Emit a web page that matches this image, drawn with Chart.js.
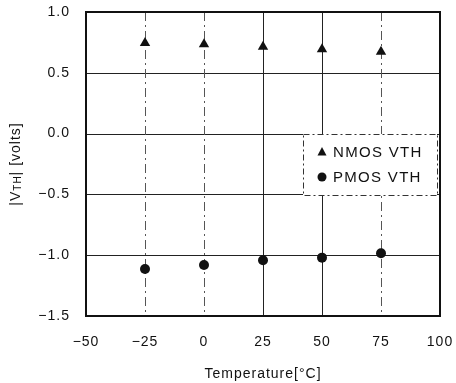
<!DOCTYPE html>
<html>
<head>
<meta charset="utf-8">
<script src="https://cdn.jsdelivr.net/npm/chart.js@4.4.1/dist/chart.umd.min.js"></script>
<style>
html,body{margin:0;padding:0;background:#fff;}
#wrap{width:456px;height:383px;}
</style>
</head>
<body>
<div id="wrap"><canvas id="c" width="456" height="383"></canvas></div>
<script>
const temperatures = [-25, 0, 25, 50, 75];
const nmosVth = [0.745, 0.734, 0.715, 0.693, 0.674];
const pmosVth = [-1.113, -1.080, -1.042, -1.020, -0.984];
const seriesNames = ['NMOS VTH', 'PMOS VTH'];
const xTitle = 'Temperature[°C]';
const yTitleParts = ['|V', 'TH', '| [volts]'];

const FONT = '"Liberation Sans", Arial, Helvetica, sans-serif';
const INK = '#111';

function fmt(v, dec) {
  const s = Math.abs(v).toFixed(dec);
  return (v < 0 ? '\u2212' : '') + s;
}

const spacingPlugin = {
  id: 'spacing',
  beforeLayout(chart) { chart.ctx.letterSpacing = '1px'; },
  beforeDraw(chart) { chart.ctx.letterSpacing = '1px'; }
};

const decorPlugin = {
  id: 'decor',
  beforeDatasetsDraw(chart) {
    const ctx = chart.ctx, a = chart.chartArea;
    const xs = chart.scales.x, ys = chart.scales.y;
    ctx.save();
    ctx.strokeStyle = '#222';
    ctx.lineWidth = 1;
    ys.ticks.forEach(t => {
      const y = Math.round(ys.getPixelForValue(t.value)) + 0.5;
      if (y <= a.top + 1 || y >= a.bottom - 1) return;
      ctx.beginPath(); ctx.moveTo(a.left, y); ctx.lineTo(a.right, y); ctx.stroke();
    });
    xs.ticks.forEach(t => {
      const x = Math.round(xs.getPixelForValue(t.value)) + 0.5;
      if (x <= a.left + 1 || x >= a.right - 1) return;
      const solid = (t.value === 25 || t.value === 50);
      ctx.setLineDash(solid ? [] : [9, 4, 2, 4]);
      ctx.strokeStyle = solid ? '#222' : '#555';
      ctx.beginPath(); ctx.moveTo(x, a.top); ctx.lineTo(x, a.bottom); ctx.stroke();
    });
    ctx.setLineDash([]);
    ctx.strokeStyle = INK;
    ctx.lineWidth = 2;
    ctx.strokeRect(a.left, a.top, a.right - a.left, a.bottom - a.top);
    ctx.restore();
  },
  afterDatasetsDraw(chart) {
    const ctx = chart.ctx, a = chart.chartArea;
    ctx.save();
    ctx.letterSpacing = '1.3px';
    const bx = 303, by = 134, bw = 134, bh = 61;
    ctx.fillStyle = '#fff';
    ctx.fillRect(bx, by, bw, bh);
    ctx.strokeStyle = '#333';
    ctx.lineWidth = 1;
    ctx.setLineDash([6, 3, 2, 3]);
    ctx.strokeRect(bx + 0.5, by + 0.5, bw, bh);
    ctx.setLineDash([]);
    ctx.font = '15px ' + FONT;
    ctx.fillStyle = INK;
    ctx.textBaseline = 'middle';
    chart.data.datasets.forEach((ds, i) => {
      const cy = by + 18 + i * 25;
      const cx = bx + 19;
      ctx.beginPath();
      if (ds.pointStyle === 'triangle') {
        ctx.moveTo(cx, cy - 5); ctx.lineTo(cx + 4.5, cy + 3.5); ctx.lineTo(cx - 4.5, cy + 3.5); ctx.closePath();
      } else {
        ctx.arc(cx, cy, 4.5, 0, Math.PI * 2);
      }
      ctx.fill();
      ctx.fillText(ds.label, bx + 30, cy + 1);
    });
    ctx.letterSpacing = '1px';
    ctx.translate(15, 164);
    ctx.rotate(-Math.PI / 2);
    ctx.textBaseline = 'alphabetic';
    const f1 = '14px ' + FONT, f2 = '10px ' + FONT;
    ctx.font = f1; const w1 = ctx.measureText(yTitleParts[0]).width;
    ctx.font = f2; const w2 = ctx.measureText(yTitleParts[1]).width;
    ctx.font = f1; const w3 = ctx.measureText(yTitleParts[2]).width;
    let x0 = -(w1 + w2 + w3) / 2;
    ctx.font = f1; ctx.fillText(yTitleParts[0], x0, 5);
    ctx.font = f2; ctx.fillText(yTitleParts[1], x0 + w1, 6);
    ctx.font = f1; ctx.fillText(yTitleParts[2], x0 + w1 + w2, 5);
    ctx.restore();
  }
};

new Chart(document.getElementById('c'), {
  type: 'scatter',
  data: {
    datasets: [
      {
        label: seriesNames[0],
        data: temperatures.map((t, i) => ({x: t, y: nmosVth[i]})),
        pointStyle: 'triangle',
        pointRadius: 6,
        backgroundColor: INK,
        borderColor: INK,
        borderWidth: 0
      },
      {
        label: seriesNames[1],
        data: temperatures.map((t, i) => ({x: t, y: pmosVth[i]})),
        pointStyle: 'circle',
        pointRadius: 5,
        backgroundColor: INK,
        borderColor: INK,
        borderWidth: 0
      }
    ]
  },
  options: {
    responsive: false,
    animation: false,
    devicePixelRatio: 1,
    layout: {padding: {top: 12, right: 16, left: 0, bottom: 0}},
    plugins: {legend: {display: false}, tooltip: {enabled: false}},
    scales: {
      x: {
        type: 'linear', min: -50, max: 100,
        ticks: {stepSize: 25, padding: 18, color: INK, font: {family: FONT, size: 14},
          callback: v => fmt(v, 0)},
        grid: {display: false, drawTicks: false},
        border: {display: false},
        title: {display: true, text: xTitle, color: INK, font: {family: FONT, size: 14}, padding: {top: 10, bottom: 0}},
        afterFit: s => { s.height = 67; s.paddingLeft = 0; s.paddingRight = 0; }
      },
      y: {
        type: 'linear', min: -1.5, max: 1.0,
        ticks: {stepSize: 0.5, padding: 16, color: INK, font: {family: FONT, size: 14},
          callback: v => fmt(v, 1)},
        grid: {display: false, drawTicks: false},
        border: {display: false},
        afterFit: s => { s.width = 86; s.paddingTop = 0; s.paddingBottom = 0; }
      }
    }
  },
  plugins: [spacingPlugin, decorPlugin]
});
</script>
</body>
</html>
